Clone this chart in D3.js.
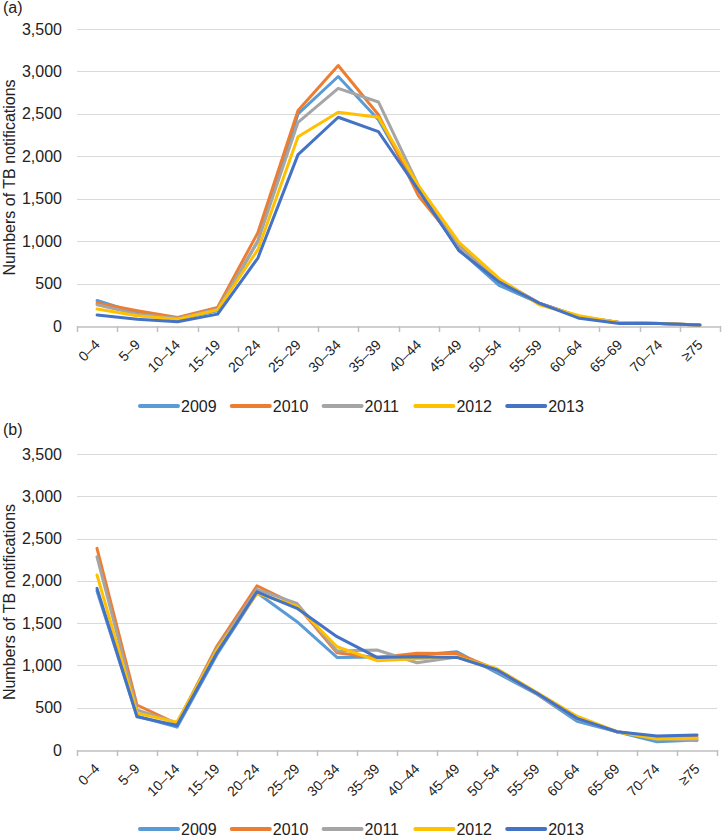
<!DOCTYPE html>
<html>
<head>
<meta charset="utf-8">
<script src="https://cdn.jsdelivr.net/npm/d3@7"></script>
<style>
  body { margin: 0; background: #fff; }
  svg text { font-family: "Liberation Sans", Arial, Helvetica, sans-serif; fill: #222; }
</style>
</head>
<body>
<div id="chart"></div>
<script>
var ageGroups = ['0–4', '5–9', '10–14', '15–19', '20–24', '25–29', '30–34', '35–39',
                 '40–44', '45–49', '50–54', '55–59', '60–64', '65–69', '70–74', '≥75'];
var years = ['2009', '2010', '2011', '2012', '2013'];
var yearColors = ['#5b9bd5', '#ed7d31', '#a5a5a5', '#ffc000', '#4472c4'];
var yTicks = [0, 500, 1000, 1500, 2000, 2500, 3000, 3500];

// panel (a)
var a2009 = [300, 150, 80, 180, 1000, 2500, 2940, 2430, 1600, 900, 480, 270, 110, 40, 30, 12];
var a2010 = [270, 180, 100, 220, 1100, 2540, 3070, 2490, 1530, 950, 540, 270, 110, 40, 30, 12];
var a2011 = [250, 140, 90, 200, 1000, 2400, 2800, 2640, 1650, 950, 540, 270, 110, 40, 30, 12];
var a2012 = [200, 120, 80, 190, 900, 2230, 2520, 2460, 1650, 990, 560, 250, 120, 40, 30, 12];
var a2013 = [130, 80, 50, 140, 800, 2020, 2460, 2290, 1600, 890, 520, 270, 90, 30, 30, 12];

// panel (b)
var b2009 = [1880, 400, 270, 1130, 1860, 1517, 1095, 1100, 1120, 1162, 910, 660, 340, 216, 98, 118];
var b2010 = [2384, 532, 310, 1230, 1942, 1710, 1150, 1090, 1143, 1140, 950, 670, 380, 216, 150, 150];
var b2011 = [2285, 473, 320, 1200, 1900, 1734, 1170, 1182, 1032, 1100, 940, 660, 370, 216, 140, 110];
var b2012 = [2069, 434, 330, 1180, 1850, 1700, 1221, 1056, 1080, 1100, 960, 680, 400, 216, 130, 138];
var b2013 = [1911, 394, 290, 1150, 1871, 1675, 1340, 1095, 1103, 1095, 946, 670, 374, 216, 165, 177];

var width = 722, height = 836;

var svg = d3.select('#chart').append('svg')
  .attr('width', width)
  .attr('height', height);

function drawPanel(label, labelY, series, top, bottom, right, legendY) {
  var g = svg.append('g');

  var x = d3.scaleBand().domain(ageGroups).range([77, right]);
  var y = d3.scaleLinear().domain([0, 3500]).range([bottom, top]);

  g.append('text')
    .attr('x', 3)
    .attr('y', labelY)
    .style('font-size', '16px')
    .text(label);

  // gridlines
  g.selectAll('line.grid')
    .data(yTicks.slice(1))
    .enter()
    .append('line')
      .attr('class', 'grid')
      .attr('x1', 77)
      .attr('x2', right)
      .attr('y1', function(d) { return Math.round(y(d)) + 0.5; })
      .attr('y2', function(d) { return Math.round(y(d)) + 0.5; })
      .attr('stroke', '#d9d9d9')
      .attr('stroke-width', 1);

  // y axis labels
  var yAxis = d3.axisLeft(y).tickValues(yTicks).tickSize(0).tickPadding(15)
    .tickFormat(d3.format(','));
  var yg = g.append('g').attr('transform', 'translate(77,0)').call(yAxis);
  yg.select('.domain').remove();
  yg.selectAll('text').style('font-size', '16px').attr('fill', '#222');

  // x axis
  var xAxis = d3.axisBottom(x).tickSize(0).tickFormat('');
  var xg = g.append('g').attr('transform', 'translate(0,' + (Math.round(bottom) + 0.5) + ')').call(xAxis);
  xg.select('.domain').attr('stroke', '#bfbfbf').attr('stroke-width', 1.5);
  xg.selectAll('.tick').remove();

  var edges = ageGroups.map(function(d) { return x(d); }).concat([right]);
  g.selectAll('line.xtick')
    .data(edges)
    .enter()
    .append('line')
      .attr('class', 'xtick')
      .attr('x1', function(d) { return Math.round(d) + 0.5; })
      .attr('x2', function(d) { return Math.round(d) + 0.5; })
      .attr('y1', bottom)
      .attr('y2', bottom + 6)
      .attr('stroke', '#bfbfbf')
      .attr('stroke-width', 1.5);

  g.selectAll('text.xlabel')
    .data(ageGroups)
    .enter()
    .append('text')
      .attr('class', 'xlabel')
      .attr('text-anchor', 'end')
      .attr('dominant-baseline', 'middle')
      .attr('transform', function(d) {
        return 'translate(' + (x(d) + x.bandwidth() / 2 + 1) + ',' + (bottom + 17) + ') rotate(-45)';
      })
      .style('font-size', '14px')
      .text(function(d) { return d; });

  // y title
  g.append('text')
    .attr('transform', 'translate(15,' + ((top + bottom) / 2) + ') rotate(-90)')
    .attr('text-anchor', 'middle')
    .style('font-size', '16px')
    .text('Numbers of TB notifications');

  var line = d3.line()
    .x(function(d, i) { return x(ageGroups[i]) + x.bandwidth() / 2; })
    .y(function(d) { return y(d); });

  g.selectAll('path.series')
    .data(series)
    .enter()
    .append('path')
      .attr('class', 'series')
      .attr('d', function(d) { return line(d); })
      .attr('fill', 'none')
      .attr('stroke', function(d, i) { return yearColors[i]; })
      .attr('stroke-width', 3)
      .attr('stroke-linejoin', 'round')
      .attr('stroke-linecap', 'round');

  // legend
  var item = 91.8;
  var legend = g.append('g').attr('transform', 'translate(140,' + legendY + ')');
  var items = legend.selectAll('g')
    .data(years)
    .enter()
    .append('g')
      .attr('transform', function(d, i) { return 'translate(' + (i * item) + ',0)'; });
  items.append('line')
    .attr('x1', 0).attr('x2', 38)
    .attr('y1', 0).attr('y2', 0)
    .attr('stroke', function(d, i) { return yearColors[i]; })
    .attr('stroke-width', 4)
    .attr('stroke-linecap', 'round');
  items.append('text')
    .attr('x', 41)
    .attr('dominant-baseline', 'central')
    .style('font-size', '16px')
    .text(function(d) { return d; });
}

drawPanel('(a)', 13, [a2009, a2010, a2011, a2012, a2013], 29, 326, 720, 406);
drawPanel('(b)', 435, [b2009, b2010, b2011, b2012, b2013], 454, 750, 717, 829);
</script>
</body>
</html>
